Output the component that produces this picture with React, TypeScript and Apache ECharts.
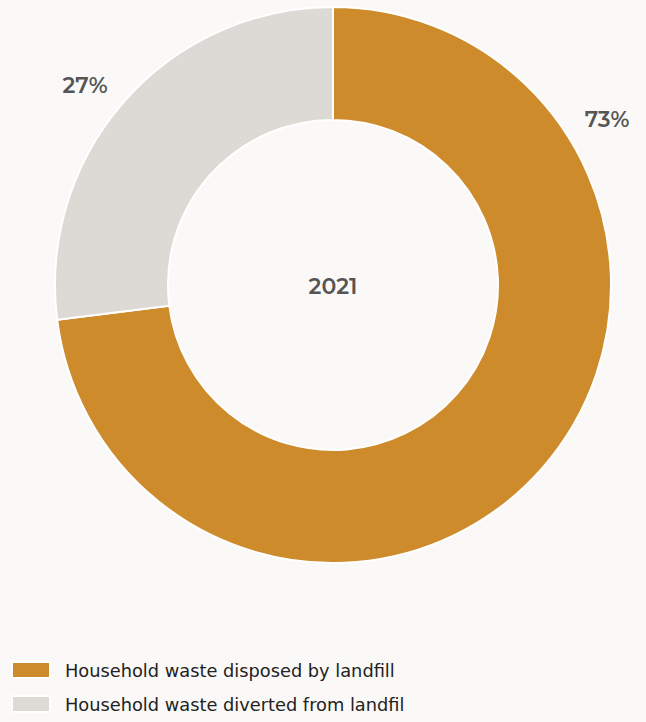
import React, { useEffect, useRef } from "react";
import * as echarts from "echarts";

const categories = ["Household waste disposed by landfill", "Household waste diverted from landfil"];
const values = [73, 27];
const colors = ["#cd8b2b", "#dddad6"];
const centerLabel = "2021";
const labelPositions = [
  { x: 607, y: 119 },
  { x: 85, y: 85 },
];

export default function App() {
  const ref = useRef<HTMLDivElement>(null);
  useEffect(() => {
    document.body.style.margin = "0";
    const chart = echarts.init(ref.current!, null, { renderer: "svg" });
    chart.setOption({
      animation: false,
      backgroundColor: "#faf9f7",
      graphic: [
        {
          type: "text",
          x: 333,
          y: 286,
          style: {
            text: centerLabel,
            align: "center",
            verticalAlign: "middle",
            fontFamily: "Montserrat, 'Noto Sans', sans-serif",
            fontSize: 22,
            fontWeight: 600,
            fill: "#555555",
          },
        },
      ],
      legend: {
        orient: "vertical",
        left: 11,
        top: 661,
        height: 61,
        padding: 0,
        itemWidth: 38,
        itemHeight: 16,
        itemGap: 16,
        icon: "rect",
        data: categories,
        textStyle: {
          fontFamily: "'DejaVu Sans', sans-serif",
          fontSize: 17.8,
          lineHeight: 16,
          color: "#222222",
          padding: [0, 0, 0, 10],
        },
      },
      series: [
        {
          type: "pie",
          center: [333, 285],
          radius: [165, 278],
          startAngle: 90,
          clockwise: true,
          avoidLabelOverlap: false,
          itemStyle: { borderColor: "#ffffff", borderWidth: 2 },
          label: {
            show: true,
            formatter: "{c}%",
            fontFamily: "Montserrat, 'Noto Sans', sans-serif",
            fontSize: 22,
            fontWeight: 600,
            color: "#555555",
            align: "center",
            verticalAlign: "middle",
          },
          labelLine: { show: false },
          labelLayout: (params: any) => ({
            x: labelPositions[params.dataIndex].x,
            y: labelPositions[params.dataIndex].y,
            align: "center",
            verticalAlign: "middle",
          }),
          emphasis: { disabled: true },
          data: categories.map((name, i) => ({ name, value: values[i], itemStyle: { color: colors[i] } })),
        },
      ],
    });
    return () => chart.dispose();
  }, []);
  return <div ref={ref} style={{ position: "fixed", left: 0, top: 0, width: 646, height: 722 }} />;
}
